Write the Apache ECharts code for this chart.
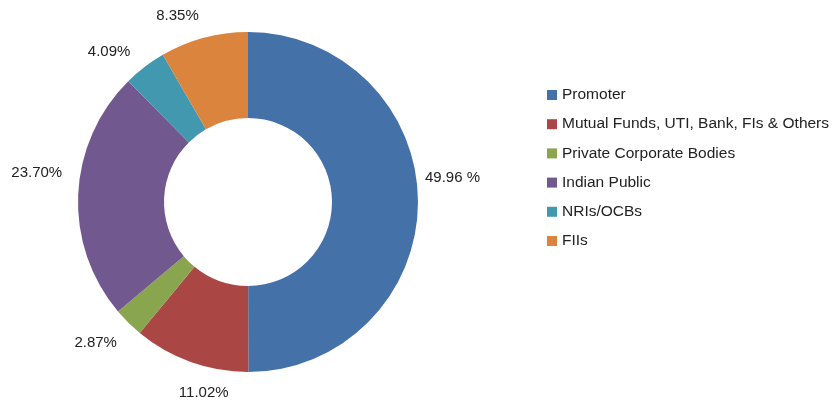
<!DOCTYPE html>
<html>
<head>
<meta charset="utf-8">
<script src="https://cdn.jsdelivr.net/npm/echarts@6/dist/echarts.min.js"></script>
<style>
  html, body { margin: 0; padding: 0; background: #fff; }
  #chart { width: 832px; height: 403px; }
</style>
</head>
<body>
<div id="chart"></div>
<script>
// shareholding pattern
const categories = [
  "Promoter",
  "Mutual Funds, UTI, Bank, FIs & Others",
  "Private Corporate Bodies",
  "Indian Public",
  "NRIs/OCBs",
  "FIIs"
];
const shares = [49.96, 11.02, 2.87, 23.70, 4.09, 8.35];
const labels = ["49.96 %", "11.02%", "2.87%", "23.70%", "4.09%", "8.35%"];
const colors = ["#4471a8", "#aa4744", "#89a54e", "#71588f", "#4298af", "#db843d"];

// small label nudges so the labels sit where the original put them
const nudge = {
  0: [-10, -24],
  1: [47, 20],
  2: [2, 12],
  3: [1, -21],
  4: [-2, -6],
  5: [3, -10]
};

let myChart = echarts.init(document.getElementById("chart"));
myChart.setOption({
  color: colors,
  animation: false,
  legend: {
    orient: "vertical",
    left: 542,
    top: 82,
    itemWidth: 10,
    itemHeight: 10,
    itemGap: 13.2,
    icon: "rect",
    textStyle: { fontSize: 15.5, color: "#222", fontFamily: "Liberation Sans, Arial" },
    data: categories
  },
  series: [
    {
      type: "pie",
      center: [248, 202],
      radius: [84, 170],
      startAngle: 90,
      clockwise: true,
      avoidLabelOverlap: false,
      label: {
        show: true,
        position: "outside",
        fontSize: 15,
        color: "#222",
        fontFamily: "Liberation Sans, Arial",
        formatter: p => labels[p.dataIndex]
      },
      labelLine: { show: false, length: 12, length2: 0 },
      labelLayout: p => ({ dx: nudge[p.dataIndex][0], dy: nudge[p.dataIndex][1] }),
      data: categories.map((name, i) => ({ name: name, value: shares[i] }))
    }
  ]
});
</script>
</body>
</html>
